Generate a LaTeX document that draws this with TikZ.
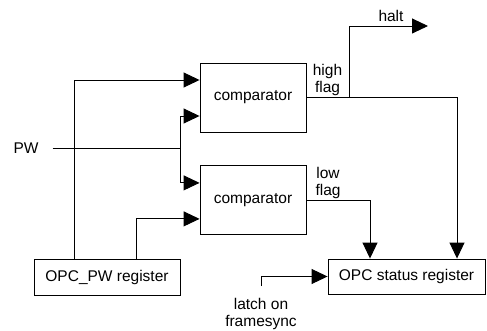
\documentclass[tikz,border=0pt]{standalone}
\usepackage{fontspec}
\setmainfont{Liberation Sans}
\usetikzlibrary{arrows.meta,positioning}

\begin{document}
\begin{tikzpicture}[
    x=1pt, y=-1pt,
    font=\fontsize{15.5}{17}\selectfont,
    blk/.style={draw, line width=0.9pt, inner sep=0pt},
    cmp/.style={blk, minimum width=106pt, minimum height=69pt},
    lbl/.style={align=center, inner sep=0pt},
    wire/.style={line width=0.9pt},
    sig/.style={wire, -{Triangle[length=16pt,width=15pt]}},
    node distance=33pt
  ]
    \useasboundingbox (0,0) rectangle (487,331);
    \node[cmp] (cmpHi) at (253,97.5) {comparator};
    \node[cmp, below=of cmpHi] (cmpLo) {comparator};
    \node[blk, minimum width=146pt, minimum height=36pt] (pwReg) at (107,277) {OPC\_PW register};
    \node[blk, minimum width=157pt, minimum height=35pt] (statReg) at (406.5,276.5) {OPC status register};
    \node[lbl] (pw) at (26,148) {PW};
    \node[lbl] (halt) at (391,16) {halt};
    \node[lbl] (hiFlag) at (327.5,80) {high\\flag};
    \node[lbl] (loFlag) at (328,183) {low\\flag};
    \node[lbl] (latch) at (261,314) {latch on\\framesync};
    \coordinate (pwIn) at ([xshift=14pt]pw.east);
    \coordinate (split) at (180,148);
    \coordinate (tap) at ([xshift=43pt]cmpHi.east);
    \coordinate (haltOut) at (428,26);
    \draw[wire] (pwIn) -- (split);
    \draw[sig] (split) |- ([yshift=-18.5pt]cmpHi.west);
    \draw[sig] (split) |- ([yshift=17.5pt]cmpLo.west);
    \draw[sig] ([xshift=-33pt]pwReg.north) |- ([yshift=17.5pt]cmpHi.west);
    \draw[sig] ([xshift=29pt]pwReg.north) |- ([yshift=-18.5pt]cmpLo.west);
    \draw[sig] (cmpHi.east) -| ([xshift=50.5pt]statReg.north);
    \draw[sig] (tap) |- (haltOut);
    \draw[sig] (cmpLo.east) -| ([xshift=-36.5pt]statReg.north);
    \draw[sig] ([yshift=12pt]latch.north) |- (statReg.west);
  \end{tikzpicture}
\end{document}
